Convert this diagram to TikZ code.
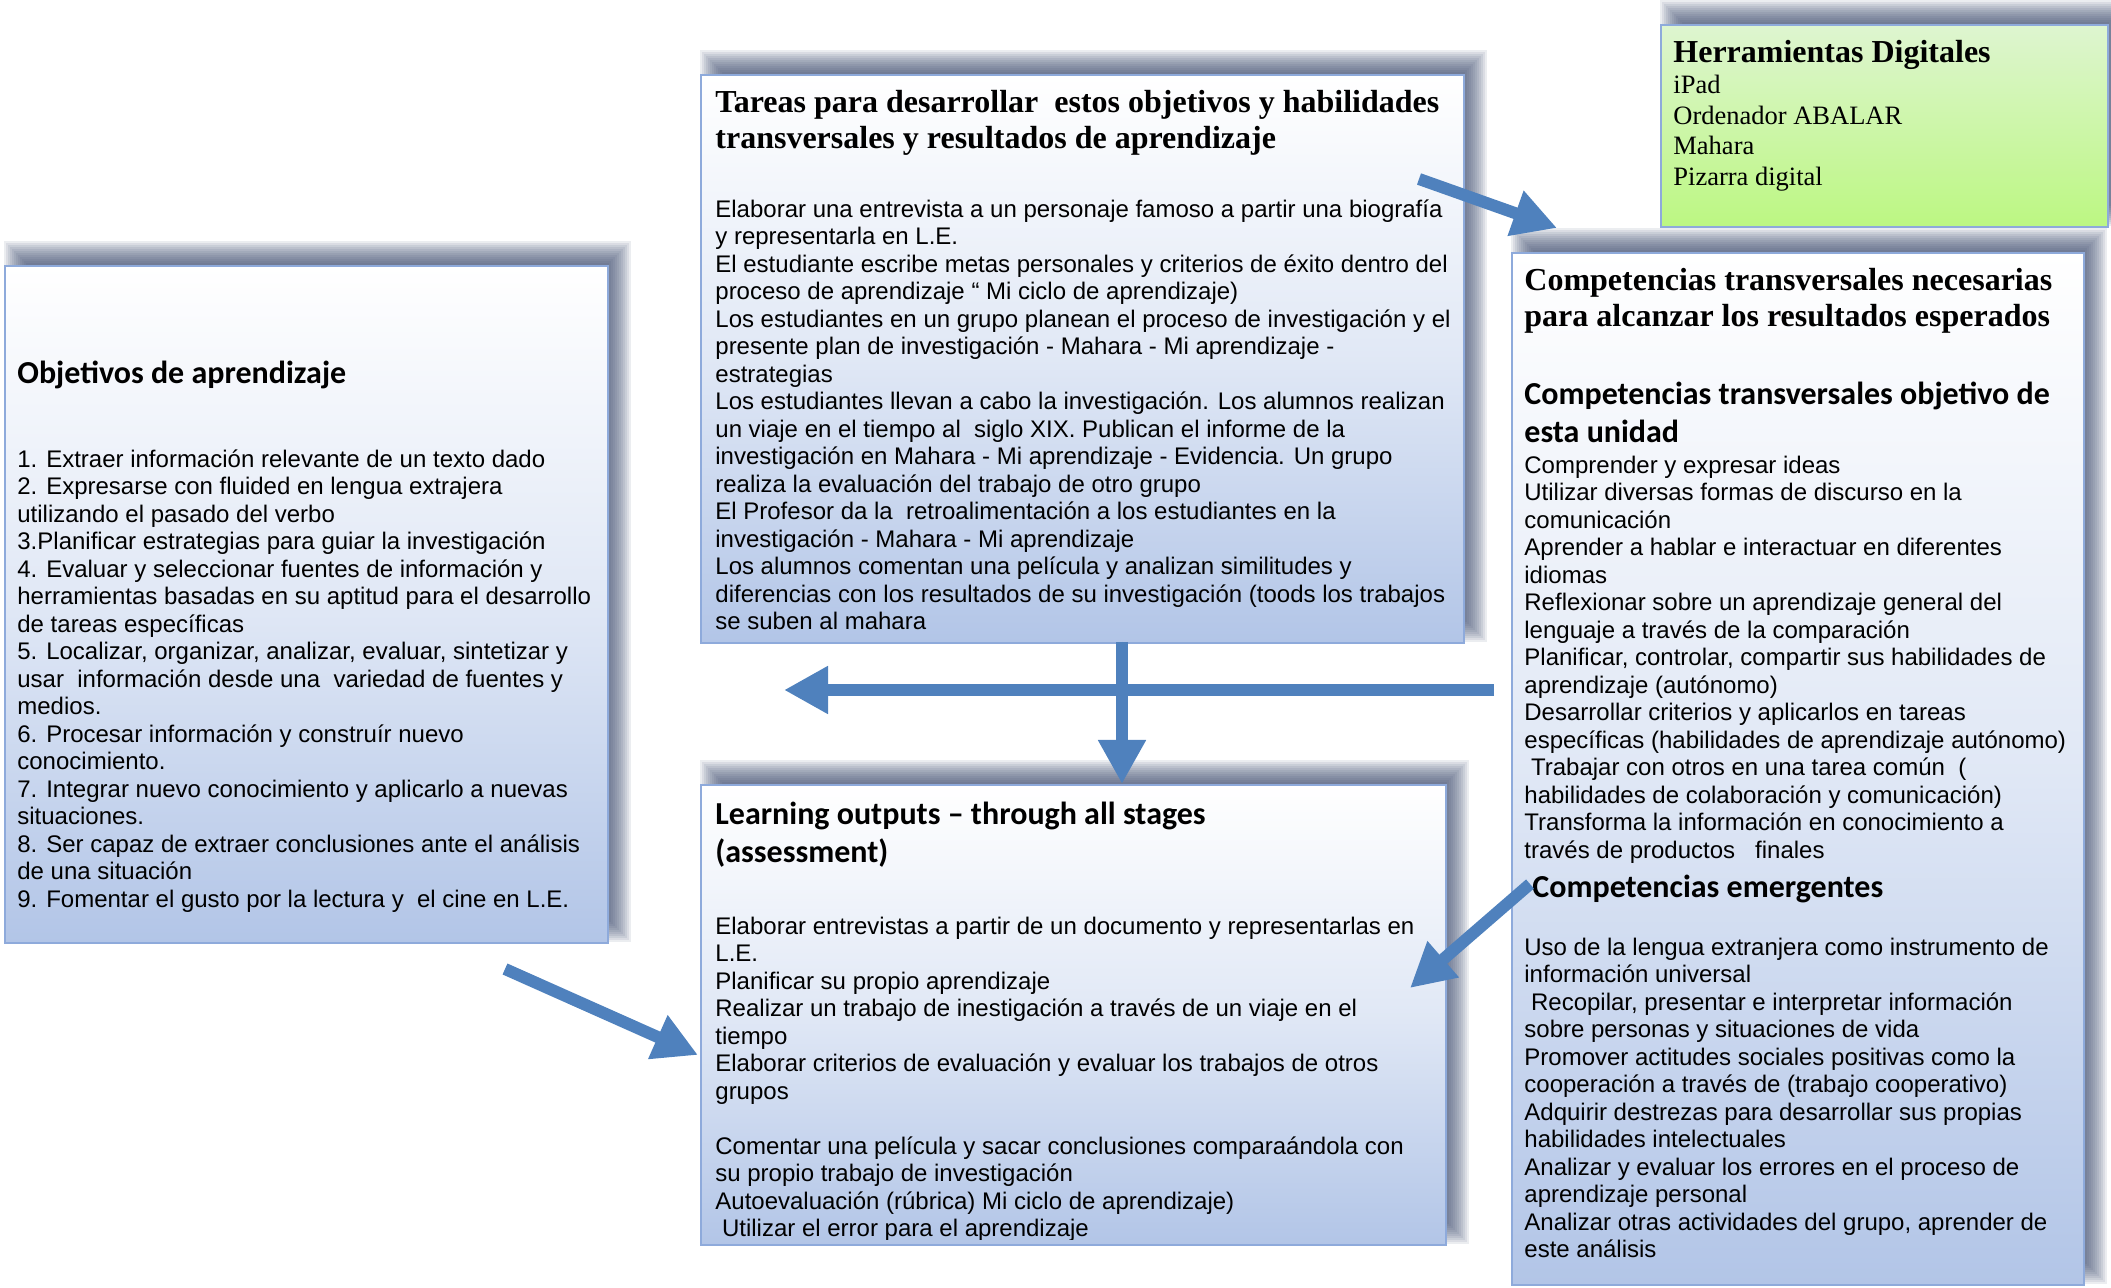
\documentclass[tikz,border=0pt]{standalone}
\usepackage{fontspec}
\setmainfont{Liberation Serif}
\newfontfamily\arial{Liberation Sans}
\newfontfamily\calib{Carlito}
\usetikzlibrary{arrows.meta}
\definecolor{boxblue}{RGB}{178,197,231}
\definecolor{boxborder}{RGB}{142,170,219}
\definecolor{arrowblue}{RGB}{79,129,189}
\definecolor{greenlt}{RGB}{222,245,208}
\definecolor{greendk}{RGB}{188,247,130}
\definecolor{shadowc}{RGB}{60,75,110}
\newcommand\fst{\rule{0pt}{1em}}
% soft shadow: box shifted 12px right and 12px up, blurred
\newcommand\softshadow[4]{%
  \foreach \i in {0,...,11}{%
    \fill[shadowc, fill opacity=0.1]
      ({#1+2*\i},{#2-24+2*\i}) rectangle ({#3+24-2*\i},{#4-2*\i});
  }%
}
\tikzset{
  panel/.style={draw=boxborder, line width=1pt, anchor=north west, inner sep=0pt,
    top color=white, bottom color=boxblue, middle color=boxblue!40!white},
  greenpanel/.style={draw=boxborder, line width=1pt, anchor=north west, inner sep=0pt,
    top color=greenlt, bottom color=greendk},
  bodytext/.style={anchor=north west, inner sep=0pt, align=left,
    font={\arial\fontsize{12}{13.75}\selectfont}},
  calhead/.style={anchor=north west, inner sep=0pt, align=left,
    font={\calib\bfseries\fontsize{16}{19}\selectfont}},
  timeshead/.style={anchor=north west, inner sep=0pt, align=left,
    font={\bfseries\fontsize{16}{18.2}\selectfont}},
  timesbody/.style={anchor=north west, inner sep=0pt, align=left,
    font={\fontsize{13.25}{15.2}\selectfont}},
  bigarrow/.style={draw=arrowblue, line width=6pt, -{Triangle[width=22.5pt,length=22pt]}, fill=arrowblue},
}
\begin{document}
\begin{tikzpicture}[x=0.5pt,y=-0.5pt]
\useasboundingbox (0,0) rectangle (2111,1288);

% shadows
\softshadow{4}{265}{607}{942}
\softshadow{700}{74}{1463}{642}
\softshadow{1660}{24}{2107}{226}
\softshadow{1511}{252}{2083}{1284}
\softshadow{700}{784}{1445}{1244}

% panels
\node[panel, minimum width=301.5pt, minimum height=338.5pt] (obj) at (4,265) {};
\node[panel, minimum width=381.5pt, minimum height=284pt] (tar) at (700,74) {};
\node[greenpanel, minimum width=223.5pt, minimum height=101pt] (herr) at (1660,24) {};
\node[panel, minimum width=286pt, minimum height=516pt] (comp) at (1511,252) {};
\node[panel, minimum width=372.5pt, minimum height=230pt] (learn) at (700,784) {};

% Objetivos
\node[calhead] (objH) at (17,351) {\fst Objetivos de aprendizaje};
\node[bodytext] (objB) at (17,443) {\fst 1. Extraer información relevante de un texto dado\\
2. Expresarse con fluided en lengua extrajera\\
utilizando el pasado del verbo\\
3.Planificar estrategias para guiar la investigación\\
4. Evaluar y seleccionar fuentes de información y\\
herramientas basadas en su aptitud para el desarrollo\\
de tareas específicas\\
5. Localizar, organizar, analizar, evaluar, sintetizar y\\
usar\ \ información desde una\ \ variedad de fuentes y\\
medios.\\
6. Procesar información y construír nuevo\\
conocimiento.\\
7. Integrar nuevo conocimiento y aplicarlo a nuevas\\
situaciones.\\
8. Ser capaz de extraer conclusiones ante el análisis\\
de una situación\\
9. Fomentar el gusto por la lectura y\ \ el cine en L.E.};

% Tareas
\node[timeshead] (tarH) at (715,80) {\fst Tareas para desarrollar\ \ estos objetivos y habilidades\\
transversales y resultados de aprendizaje};
\node[bodytext] (tarB) at (715,193) {\fst Elaborar una entrevista a un personaje famoso a partir una biografía\\
y representarla en L.E.\\
El estudiante escribe metas personales y criterios de éxito dentro del\\
proceso de aprendizaje “ Mi ciclo de aprendizaje)\\
Los estudiantes en un grupo planean el proceso de investigación y el\\
presente plan de investigación - Mahara - Mi aprendizaje -\\
estrategias\\
Los estudiantes llevan a cabo la investigación. Los alumnos realizan\\
un viaje en el tiempo al\ \ siglo XIX. Publican el informe de la\\
investigación en Mahara - Mi aprendizaje - Evidencia. Un grupo\\
realiza la evaluación del trabajo de otro grupo\\
El Profesor da la\ \ retroalimentación a los estudiantes en la\\
investigación - Mahara - Mi aprendizaje\\
Los alumnos comentan una película y analizan similitudes y\\
diferencias con los resultados de su investigación (toods los trabajos\\
se suben al mahara};

% Herramientas
\node[timeshead] (herrH) at (1673,30) {\fst Herramientas Digitales};
\node[timesbody] (herrB) at (1673,67) {\fst iPad\\
Ordenador ABALAR\\
Mahara\\
Pizarra digital};

% Competencias
\node[timeshead] (compH) at (1524,258) {\fst Competencias transversales necesarias\\
para alcanzar los resultados esperados};
\node[calhead] (compS) at (1524,372) {\fst Competencias transversales objetivo de\\
esta unidad};
\node[bodytext] (compB) at (1524,449) {\fst Comprender y expresar ideas\\
Utilizar diversas formas de discurso en la\\
comunicación\\
Aprender a hablar e interactuar en diferentes\\
idiomas\\
Reflexionar sobre un aprendizaje general del\\
lenguaje a través de la comparación\\
Planificar, controlar, compartir sus habilidades de\\
aprendizaje (autónomo)\\
Desarrollar criterios y aplicarlos en tareas\\
específicas (habilidades de aprendizaje autónomo)\\
\ Trabajar con otros en una tarea común\ \ (\\
habilidades de colaboración y comunicación)\\
Transforma la información en conocimiento a\\
través de productos\ \ \ finales};
\node[calhead] (emH) at (1532,865) {\fst Competencias emergentes};
\node[bodytext] (emB) at (1524,931) {\fst Uso de la lengua extranjera como instrumento de\\
información universal\\
\ Recopilar, presentar e interpretar información\\
sobre personas y situaciones de vida\\
Promover actitudes sociales positivas como la\\
cooperación a través de (trabajo cooperativo)\\
Adquirir destrezas para desarrollar sus propias\\
habilidades intelectuales\\
Analizar y evaluar los errores en el proceso de\\
aprendizaje personal\\
Analizar otras actividades del grupo, aprender de\\
este análisis};

% Learning outputs
\node[calhead] (learnH) at (715,792) {\fst Learning outputs – through all stages\\
(assessment)};
\begin{scope}
\clip (700,784) rectangle (1445,1239);
\node[bodytext] (learnB) at (715,910) {\fst Elaborar entrevistas a partir de un documento y representarlas en\\
L.E.\\
Planificar su propio aprendizaje\\
Realizar un trabajo de inestigación a través de un viaje en el\\
tiempo\\
Elaborar criterios de evaluación y evaluar los trabajos de otros\\
grupos\\
\mbox{}\\
Comentar una película y sacar conclusiones comparaándola con\\
su propio trabajo de investigación\\
Autoevaluación (rúbrica) Mi ciclo de aprendizaje)\\
\ Utilizar el error para el aprendizaje};
\end{scope}

% arrow end points
\coordinate (a1s) at (1419,179);
\coordinate (a1e) at (1557,228);
\coordinate (a2s) at (505,969);
\coordinate (a2e) at (698,1055);
\coordinate (a3s) at (1530,884);
\coordinate (a3e) at (1410,988);
\coordinate (a4s) at (1122,642);
\coordinate (a4e) at (1122,784);
\coordinate (a5s) at (1494,690);
\coordinate (a5e) at (784,690);

\draw[bigarrow] (a5s) -- (a5e);
\draw[bigarrow] (a4s) -- (a4e);
\draw[bigarrow] (a1s) -- (a1e);
\draw[bigarrow] (a2s) -- (a2e);
\draw[bigarrow] (a3s) -- (a3e);
\end{tikzpicture}
\end{document}
